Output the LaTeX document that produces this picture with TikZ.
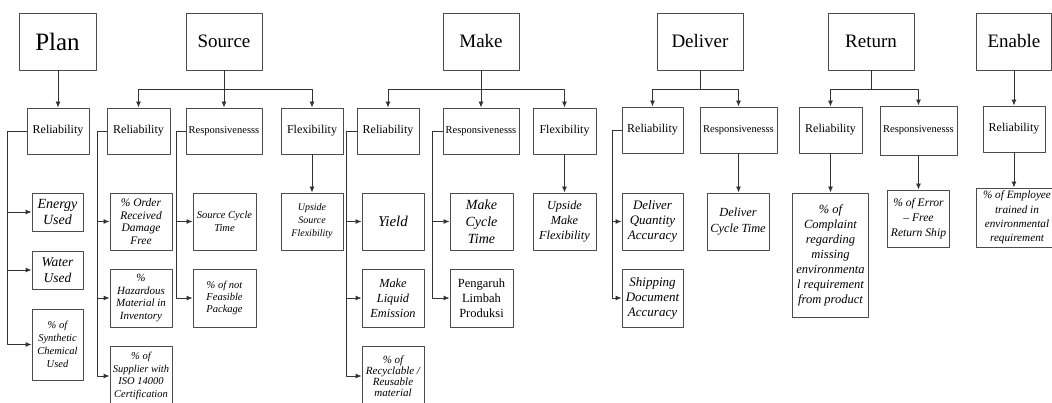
\documentclass[tikz,border=0pt]{standalone}
\usepackage{fontspec}
\setmainfont{Liberation Serif}
\usetikzlibrary{arrows.meta}
\newcommand{\lfont}[2]{\itshape\fontsize{#1}{#2}\selectfont}

\tikzset{
  box/.style={draw=black!70, line width=0.9pt, inner sep=1pt, align=center},
  head/.style={box, minimum width=76pt, minimum height=57pt, font=\fontsize{19}{21}\selectfont},
  crit/.style={box, minimum width=62pt, minimum height=46pt, font=\fontsize{12}{14}\selectfont},
  leaf/.style={box, minimum width=62pt, minimum height=57pt},
  link/.style={draw=black!80, line width=0.9pt, -{Latex[length=6pt, width=5pt]}},
}

\begin{document}
\begin{tikzpicture}[x=1pt, y=-1pt, line cap=round, line join=round]
\useasboundingbox (0,0) rectangle (1052,403);
\clip (0,0) rectangle (1052,403);
% process boxes
\node[head, minimum width=77pt, font=\fontsize{25}{27}\selectfont] (plan) at (57.5,41.5) {Plan};
\node[head] (source) at (224,41.5) {Source};
\node[head] (make) at (481,41.5) {Make};
\node[head, minimum width=86pt] (deliver) at (700,41.5) {Deliver};
\node[head, minimum width=86pt] (return) at (871,41.5) {Return};
\node[head, minimum width=75pt] (enable) at (1014,41.5) {Enable};
% attributes
\node[crit] (planrel) at (58,131) {Reliability};
\node[crit, minimum width=63pt] (srcrel) at (138.5,131) {Reliability};
\node[crit, minimum width=76pt, font=\fontsize{10.5}{12}\selectfont] (srcresp) at (224,131) {Responsivenesss};
\node[crit] (srcflex) at (312,131) {Flexibility};
\node[crit] (makerel) at (388,131) {Reliability};
\node[crit, minimum width=76pt, font=\fontsize{10.5}{12}\selectfont] (makeresp) at (481,131) {Responsivenesss};
\node[crit, minimum width=63pt] (makeflex) at (564.5,131) {Flexibility};
\node[crit, minimum width=61pt] (delrel) at (652.5,130) {Reliability};
\node[crit, minimum width=77pt, font=\fontsize{10.5}{12}\selectfont] (delresp) at (738.5,130) {Responsivenesss};
\node[crit, minimum width=63pt] (retrel) at (830.5,130) {Reliability};
\node[crit, minimum width=77pt, minimum height=49pt, font=\fontsize{10.5}{12}\selectfont] (retresp) at (918.5,130.5) {Responsivenesss};
\node[crit] (enarel) at (1014,129) {Reliability};
% metrics
\node[leaf, minimum width=51pt, minimum height=38pt, font=\lfont{14}{16}] (pu1) at (57.5,212) {Energy\\Used};
\node[leaf, minimum width=51pt, minimum height=38pt, font=\lfont{13.5}{16}] (pu2) at (57.5,270) {Water\\Used};
\node[leaf, minimum width=51pt, minimum height=71pt, font=\lfont{10.5}{13}] (pu3) at (57.5,344.5) {\% of\\Synthetic\\Chemical\\Used};
\node[leaf, font=\lfont{11.5}{12.5}] (su1) at (141,221.5) {\% Order\\Received\\Damage\\Free};
\node[leaf, minimum height=58pt, font=\lfont{11}{12.5}] (su2) at (141,298) {\%\\Hazardous\\Material in\\Inventory};
\node[leaf, minimum height=60pt, font=\lfont{10.5}{12.8}] (su3) at (141,376) {\% of\\Supplier with\\ISO 14000\\Certification};
\node[leaf, minimum width=63pt, font=\lfont{10.5}{13}] (sr1) at (224.5,221.5) {Source Cycle\\Time};
\node[leaf, minimum width=63pt, minimum height=58pt, font=\lfont{10.5}{12.2}] (sr2) at (224.5,298) {\% of not\\Feasible\\Package};
\node[leaf, font=\lfont{10}{13}] (sf1) at (312,221.5) {Upside\\Source\\Flexibility};
\node[leaf, font=\lfont{15}{17}] (mu1) at (393,221.5) {Yield};
\node[leaf, minimum height=58pt, font=\lfont{12.3}{15}] (mu2) at (393,298) {Make\\Liquid\\Emission};
\node[leaf, minimum height=60pt, font=\lfont{11}{11}] (mu3) at (393,376) {\% of\\Recyclable /\\Reusable\\material};
\node[leaf, minimum width=63pt, font=\lfont{14}{17}] (mr1) at (481.5,221.5) {Make\\Cycle\\Time};
\node[leaf, minimum width=63pt, minimum height=58pt, font=\fontsize{12.5}{15}\selectfont] (mr2) at (481.5,298) {Pengaruh\\Limbah\\Produksi};
\node[leaf, minimum width=63pt, font=\lfont{12.3}{15}] (mf1) at (564.5,221.5) {Upside\\Make\\Flexibility};
\node[leaf, minimum width=61pt, font=\lfont{13}{15}] (du1) at (652.5,221.5) {Deliver\\Quantity\\Accuracy};
\node[leaf, minimum width=61pt, minimum height=58pt, font=\lfont{13}{15}] (du2) at (652.5,298) {Shipping\\Document\\Accuracy};
\node[leaf, font=\lfont{12.4}{16}] (dr1) at (738,221.5) {Deliver\\Cycle Time};
\node[leaf, minimum width=76pt, minimum height=124pt, font=\lfont{12.5}{15}] (ru1) at (830.5,255) {\% of\\Complaint\\regarding\\missing\\environmenta\\l requirement\\from product};
\node[leaf, font=\lfont{11.6}{14.7}] (rr1) at (918.5,218.5) {\% of Error\\-- Free\\Return Ship};
\node[leaf, minimum width=82pt, minimum height=59pt, font=\lfont{11.2}{14.4}] (eu1) at (1017,217.5) {\% of Employee\\trained in\\environmental\\requirement};
% top connectors
\draw[link] (plan.south -| planrel.north) -- (planrel.north);
\draw[link] (source.south) -- (srcresp.north);
\draw[link] (source.south) -- ++(0,19) -| (srcrel.north);
\draw[link] (source.south) -- ++(0,19) -| (srcflex.north);
\draw[link] (make.south) -- (makeresp.north);
\draw[link] (make.south) -- ++(0,19) -| (makerel.north);
\draw[link] (make.south) -- ++(0,19) -| (makeflex.north);
\draw[link] (deliver.south) -- ++(0,19) -| (delrel.north);
\draw[link] (deliver.south) -- ++(0,19) -| (delresp.north);
\draw[link] (return.south) -- ++(0,19) -| (retrel.north);
\draw[link] (return.south) -- ++(0,19) -| (retresp.north);
\draw[link] (enable.south) -- (enarel.north);
% straight down
\draw[link] (srcflex.south) -- (sf1.north);
\draw[link] (makeflex.south) -- (mf1.north);
\draw[link] (delresp.south) -- (delresp.south |- dr1.north);
\draw[link] (retrel.south) -- (retrel.south |- ru1.north);
\draw[link] (retresp.south) -- (rr1.north);
\draw[link] (enarel.south) -- (enarel.south |- eu1.north);
% side spines
\foreach \c in {pu1,pu2,pu3} \draw[link] (planrel.west) -- ++(-19,0) |- (\c.west);
\foreach \c in {su1,su2,su3} \draw[link] (srcrel.west) -- ++(-9,0) |- (\c.west);
\foreach \c in {sr1,sr2} \draw[link] (srcresp.west) -- ++(-9,0) |- (\c.west);
\foreach \c in {mu1,mu2,mu3} \draw[link] (makerel.west) -- ++(-10,0) |- (\c.west);
\foreach \c in {mr1,mr2} \draw[link] (makeresp.west) -- ++(-10,0) |- (\c.west);
\foreach \c in {du1,du2} \draw[link] (delrel.west) -- ++(-9,0) |- (\c.west);
\end{tikzpicture}
\end{document}
